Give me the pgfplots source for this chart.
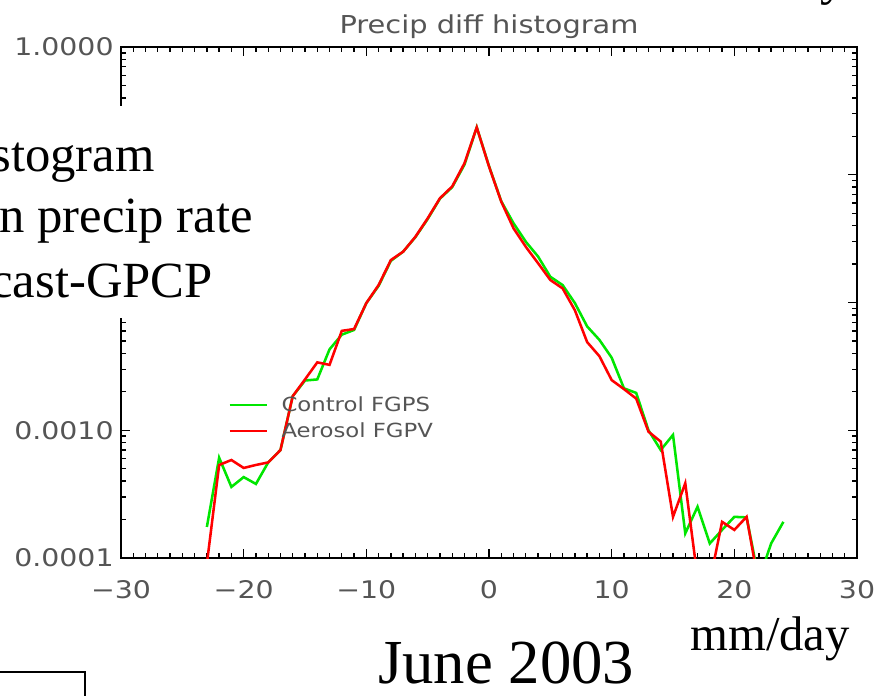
\documentclass[border=0pt]{standalone}
\usepackage{fontspec}
\setmainfont{Liberation Serif}
\newfontfamily\idl{DejaVu Sans}
\usepackage{graphicx}
\usepackage{pgfplots}
\pgfplotsset{compat=1.18}
\definecolor{idlgreen}{RGB}{0,230,0}
\definecolor{idlred}{RGB}{255,0,0}
\definecolor{idltext}{RGB}{85,85,85}
\newcommand{\hw}[1]{\scalebox{1.17}[1]{#1}}

\begin{document}
\begin{tikzpicture}[x=0.75pt,y=0.75pt]
\useasboundingbox (0,0) rectangle (877,696);
\clip (0,0) rectangle (877,696);
\begin{axis}[
  at={(90.75pt,103.5pt)}, anchor=south west, scale only axis,
  width=552pt, height=383.25pt,
  xmin=-30, xmax=30, ymode=log, ymin=1e-4, ymax=1,
  xtick={-30,-20,...,30},
  xticklabels={\hw{−30},\hw{−20},\hw{−10},\hw{0},\hw{10},\hw{20},\hw{30}},
  minor x tick num=9,
  ytick={1e-4,1e-3,1e-2,1e-1,1},
  minor ytick={2e-4,3e-4,4e-4,5e-4,6e-4,7e-4,8e-4,9e-4,
               2e-3,3e-3,4e-3,5e-3,6e-3,7e-3,8e-3,9e-3,
               2e-2,3e-2,4e-2,5e-2,6e-2,7e-2,8e-2,9e-2,
               0.2,0.3,0.4,0.5,0.6,0.7,0.8,0.9},
  yticklabels={\hw{0.0001},\hw{0.0010},{},{},\hw{1.0000}},
  tick align=inside, xtick pos=both, ytick pos=both,
  major tick length=7pt, minor tick length=3.5pt,
  every tick/.style={black, line width=1pt},
  axis line style={black, line width=1.5pt},
  tick label style={font=\idl\fontsize{18.2}{21}\selectfont, text=idltext},
  xticklabel style={yshift=-13pt},
  yticklabel style={xshift=-2pt},
  title={\hw{Precip diff histogram}},
  title style={font=\idl\fontsize{18.5}{21}\selectfont, text=idltext, at={(0.5,1)}, anchor=base, yshift=4.5pt},
  legend style={draw=none, fill=none, at={(rel axis cs:0.146,0.322)}, anchor=north west,
    font=\idl\fontsize{14.6}{19.5}\selectfont, text=idltext, inner sep=0pt, row sep=3pt},
  legend cell align=left,
  legend image code/.code={\draw[#1, line width=1.3pt] (0pt,0pt) -- (28pt,0pt); \path (36pt,0pt);},
]
\addplot[idlgreen, line width=1.9pt] coordinates {
(-23,1.75e-4) (-22,6.1e-4) (-21,3.6e-4) (-20,4.3e-4) (-19,3.8e-4) (-18,5.6e-4)
(-17,7.0e-4) (-16,1.85e-3) (-15,2.45e-3) (-14,2.5e-3) (-13,4.3e-3) (-12,5.6e-3)
(-11,6.1e-3) (-10,9.9e-3) (-9,0.0135) (-8,0.0212) (-7,0.025) (-6,0.0325)
(-5,0.045) (-4,0.065) (-3,0.080) (-2,0.120) (-1,0.235) (0,0.117)
(1,0.062) (2,0.0417) (3,0.0299) (4,0.0229) (5,0.0159) (6,0.0137)
(7,0.0099) (8,0.0065) (9,0.0051) (10,0.0037) (11,0.00213) (12,0.00196)
(13,0.00100) (14,0.00070) (15,0.00092) (16,0.000156) (17,0.000252) (18,0.000130)
(19,0.000166) (20,0.000210) (21,0.000208) (22,6.8e-5) (23,1.3e-4) (24,1.92e-4)
};
\addlegendentry{\hw{Control FGPS}}
\addplot[idlred, line width=1.9pt] coordinates {
(-23,9e-5) (-22,5.35e-4) (-21,5.85e-4) (-20,5.07e-4) (-19,5.35e-4) (-18,5.6e-4)
(-17,7.0e-4) (-16,1.85e-3) (-15,2.5e-3) (-14,3.4e-3) (-13,3.25e-3) (-12,6.0e-3)
(-11,6.2e-3) (-10,0.0099) (-9,0.0137) (-8,0.0215) (-7,0.025) (-6,0.0327)
(-5,0.0456) (-4,0.0655) (-3,0.081) (-2,0.123) (-1,0.235) (0,0.116)
(1,0.0615) (2,0.0381) (3,0.0273) (4,0.0203) (5,0.0150) (6,0.0129)
(7,0.0087) (8,0.0049) (9,0.0038) (10,0.00247) (11,0.0021) (12,0.00177)
(13,0.000975) (14,0.000815) (15,0.00021) (16,0.000385) (17,7e-5) (18,6.5e-5)
(19,0.000192) (20,0.000166) (21,0.00021) (22,6.1e-5)
};
\addlegendentry{\hw{Aerosol FGPV}}
\end{axis}
\fill[white] (0,378) rectangle (265,590);
\node[anchor=base east, inner sep=0pt, font=\fontsize{38}{45}\selectfont] at (155,524) {stogram};
\node[anchor=base east, inner sep=0pt, font=\fontsize{38}{45}\selectfont] at (253,463) {n precip rate};
\node[anchor=base east, inner sep=0pt, font=\fontsize{38}{45}\selectfont] at (213,398) {cast-GPCP};
\node[anchor=base west, inner sep=0pt, font=\fontsize{47}{55}\selectfont] at (378,13) {June 2003};
\node[anchor=base west, inner sep=0pt, font=\fontsize{36.5}{42}\selectfont] at (690,46) {mm/day};
\node[anchor=base, inner sep=0pt, font=\fontsize{38}{45}\selectfont] at (833,701) {y};
\draw[line width=1.5pt] (0,24) -- (85,24) -- (85,0);
\end{tikzpicture}
\end{document}
